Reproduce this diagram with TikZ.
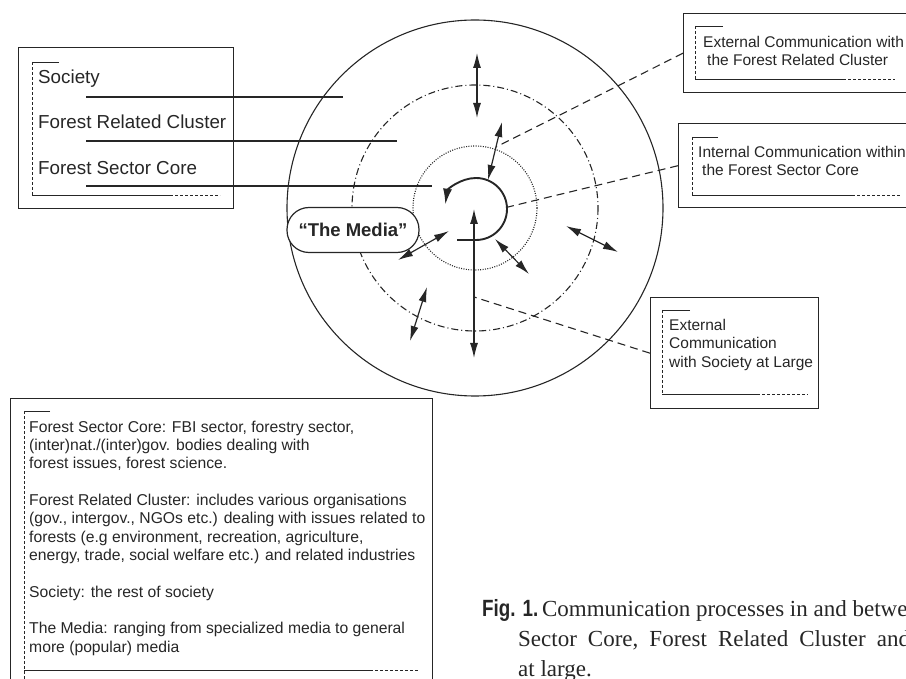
\documentclass[tikz,border=0pt]{standalone}
\usepackage{fontspec}
\setmainfont{Liberation Sans}
\newfontfamily\capfont{Liberation Serif}
\newfontfamily\figfont[FakeStretch=0.8]{Liberation Sans}
\usepackage{tikz}
\usetikzlibrary{arrows.meta,calc}

\colorlet{ink}{black!85}

\tikzset{
  frame/.style={draw, line width=1.4pt, anchor=north west, inner sep=0pt},
  lbl/.style={anchor=base west, inner sep=0pt, font=\fontsize{18.8}{22}\selectfont},
  note/.style={anchor=north west, inner sep=0pt, align=left, font=\fontsize{15.5}{18.5}\selectfont},
  deftext/.style={anchor=north west, inner sep=0pt, align=left, font=\fontsize{15.7}{18.33}\selectfont},
  finedash/.style={line width=0.8pt, dash pattern=on 3pt off 2pt},
  ring/.style={line width=1.1pt},
  both/.style={{Latex[length=15pt,width=8pt]}-{Latex[length=15pt,width=8pt]}, line width=1.2pt},
  conn/.style={line width=1.1pt, dash pattern=on 8pt off 5pt},
  capline/.style={anchor=base west, inner sep=0pt, font=\capfont\fontsize{23}{30}\selectfont}
}

\begin{document}
\begin{tikzpicture}[x=1pt, y=1pt, yscale=-1, color=ink]
    \useasboundingbox (0,0) rectangle (906,679);
    \clip (0,0) rectangle (906,679);

    % legend of the rings
    \node[frame, minimum width=215pt, minimum height=161pt] (legend) at (18,47) {};
    \node[lbl] (soc) at (38,84) {Society};
    \node[lbl] (frc) at (38,129) {Forest Related Cluster};
    \node[lbl] (fsc) at (38,175) {Forest Sector Core};
    \draw[line width=0.9pt] (59,62) -- (32,62) (32,195) -- (170,195);
    \draw[finedash] (32,62) -- (32,195) (170,195) -- (220,195);

    % the rings
    \coordinate (c) at (475,208);
    \draw[ring] (c) circle[radius=188pt];
    \draw[ring, dash pattern=on 7pt off 3pt on 1pt off 3pt] (c) circle[radius=123pt];
    \draw[ring, dash pattern=on 1pt off 1.4pt] (c) circle[radius=62pt];

    \coordinate (socA) at (86,97);
    \coordinate (socB) at (343,97);
    \coordinate (frcA) at (86,141);
    \coordinate (frcB) at (397,141);
    \coordinate (fscA) at (86,186);
    \coordinate (fscB) at (432,186);
    \draw[line width=1.3pt] (socA) -- (socB);
    \draw[line width=1.3pt] (frcA) -- (frcB);
    \draw[line width=1.3pt] (fscA) -- (fscB);

    % internal communication
    \draw[line width=1.9pt, -{Latex[length=16pt,width=9pt]}] (457,240) -- (476,240)
        arc[start angle=90, end angle=-172, radius=31pt];

    % arrows
    \coordinate (n1) at (477,53);
    \coordinate (n2) at (477,118);
    \coordinate (ne1) at (502,122);
    \coordinate (ne2) at (488,180);
    \coordinate (m1) at (398,260);
    \coordinate (m2) at (449,231);
    \coordinate (s1) at (474,209);
    \coordinate (s2) at (474,358);
    \coordinate (se1) at (495,239);
    \coordinate (se2) at (529,274);
    \coordinate (e1) at (566,226);
    \coordinate (e2) at (618,252);
    \coordinate (sw1) at (427,287);
    \coordinate (sw2) at (410,341);
    \draw[both] (n1) -- (n2);
    \draw[both] (ne1) -- (ne2);
    \draw[both] (m1) -- (m2);
    \draw[both] (s1) -- (s2);
    \draw[both] (se1) -- (se2);
    \draw[both] (e1) -- (e2);
    \draw[both] (sw1) -- (sw2);

    \node[draw, fill=white, line width=1.2pt, rounded corners=22pt, minimum width=132pt,
          minimum height=45pt, inner sep=0pt,
          font=\fontsize{18.5}{22}\selectfont\bfseries] (media) at (353,230) {“The Media”};

    % boxes on the right
    \node[frame, minimum width=240pt, minimum height=79pt] (extfrc) at (683,13) {};
    \node[note] (extfrctxt) at (703,35.7) {External Communication with\\\hspace*{4pt}the Forest Related Cluster};
    \draw[line width=0.9pt] (723,26) -- (695,26) (695,79) -- (843,79);
    \draw[finedash] (695,26) -- (695,79) (843,79) -- (895,79);

    \node[frame, minimum width=245pt, minimum height=84pt] (intfsc) at (678,123) {};
    \node[note] (intfsctxt) at (698,145.7) {Internal Communication within\\\hspace*{4pt}the Forest Sector Core};
    \draw[line width=0.9pt] (718,137) -- (692,137) (692,195) -- (852,195);
    \draw[finedash] (692,137) -- (692,195) (852,195) -- (901,195);

    \node[frame, minimum width=168pt, minimum height=111pt] (extsoc) at (650,297) {};
    \node[note] (extsoctxt) at (669,318.7) {External\\Communication\\with Society at Large};
    \draw[line width=0.9pt] (690,310) -- (662,310) (662,394) -- (757,394);
    \draw[finedash] (662,310) -- (662,394) (757,394) -- (808,394);

    \coordinate (onfrc) at (496,147);
    \coordinate (onfsc) at (508,207);
    \coordinate (onsoc) at (474,297);
    \draw[conn] (extfrc.west) -- (onfrc);
    \draw[conn] (intfsc.west) -- (onfsc);
    \draw[conn] (extsoc.west) -- (onsoc);

    % definitions
    \node[frame, minimum width=422pt, minimum height=300pt] (defs) at (10,398) {};
    \node[deftext] (defstxt) at (29,420.6) {Forest Sector Core: FBI sector, forestry sector,\\
        (inter)nat./(inter)gov. bodies dealing with\\
        forest issues, forest science.\\[18.33pt]
        Forest Related Cluster: includes various organisations\\
        (gov., intergov., NGOs etc.) dealing with issues related to\\
        forests (e.g environment, recreation, agriculture,\\
        energy, trade, social welfare etc.) and related industries\\[18.33pt]
        Society: the rest of society\\[18.33pt]
        The Media: ranging from specialized media to general\\
        more (popular) media};
    \draw[line width=0.9pt] (50,411) -- (24,411) (24,670) -- (370,670);
    \draw[finedash] (24,411) -- (24,679) (370,670) -- (419,670);

    % caption
    \node[capline] (cap1) at (482,616) {{\figfont\bfseries\fontsize{23.5}{30}\selectfont Fig. 1.}\,Communication processes in and between};
    \node[capline] (cap2) at (518,646) {\spaceskip=0.48em\relax Sector Core, Forest Related Cluster and};
    \node[capline] (cap3) at (518,676) {at large.};
\end{tikzpicture}
\end{document}
